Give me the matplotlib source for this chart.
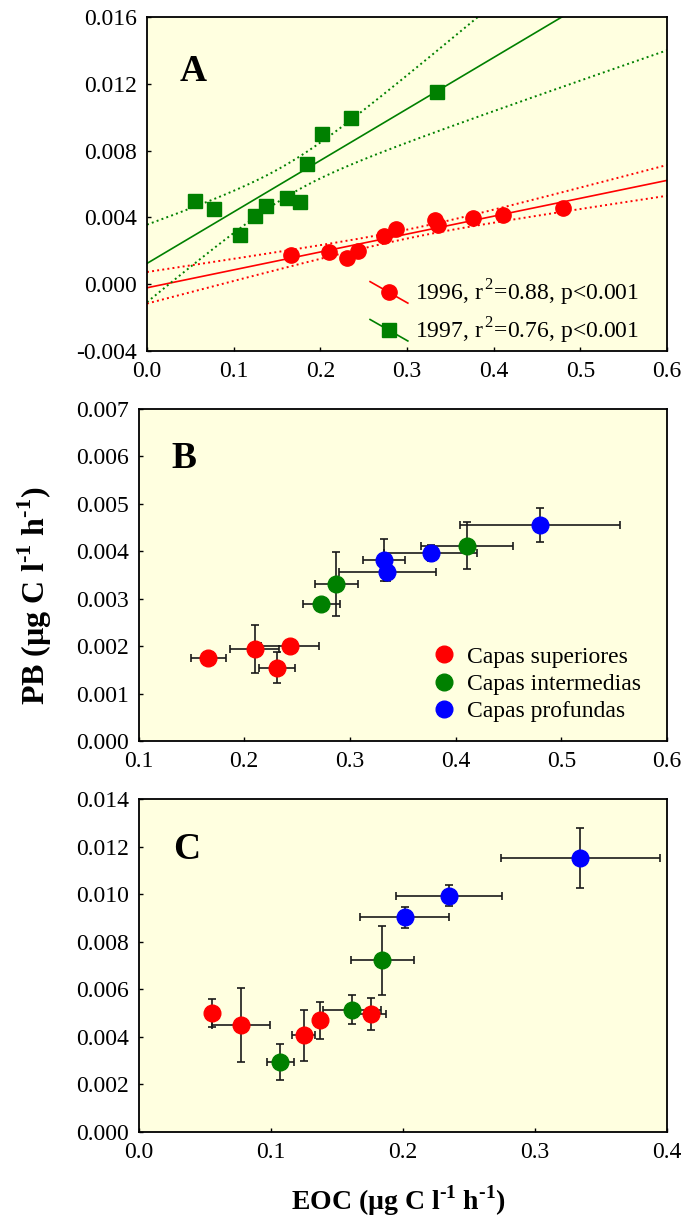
import numpy as np
import matplotlib
matplotlib.use("Agg")
import matplotlib.pyplot as plt
from matplotlib.lines import Line2D
from matplotlib.legend_handler import HandlerLine2D
from matplotlib.ticker import FormatStrFormatter, MultipleLocator

plt.rcParams['font.family'] = ['Liberation Serif', 'DejaVu Serif']
plt.rcParams['mathtext.fontset'] = 'custom'
plt.rcParams['mathtext.rm'] = 'Liberation Serif'
plt.rcParams['mathtext.bf'] = 'Liberation Serif:bold'
plt.rcParams['font.size'] = 17

# panel B (1996): means and errors per layer
b_sup_x = [0.166, 0.210, 0.231, 0.243]
b_sup_y = [0.00176, 0.00194, 0.00155, 0.00200]
b_sup_xerr = [0.0164, 0.0233, 0.0169, 0.0273]
b_sup_yerr = [0.00003, 0.0005, 0.00033, 0.00004]
b_int_x = [0.273, 0.287, 0.411]
b_int_y = [0.00290, 0.00331, 0.00412]
b_int_xerr = [0.0177, 0.0204, 0.0434]
b_int_yerr = [0.00005, 0.00068, 0.0005]
b_prof_x = [0.3325, 0.3354, 0.3765, 0.480]
b_prof_y = [0.00382, 0.00356, 0.00397, 0.00455]
b_prof_xerr = [0.0197, 0.046, 0.0438, 0.0754]
b_prof_yerr = [0.00045, 0.00018, 0.00017, 0.00036]

# panel C (1997)
c_sup_x = [0.0555, 0.0777, 0.1251, 0.1371, 0.1762]
c_sup_y = [0.00501, 0.00449, 0.00407, 0.00470, 0.00495]
c_sup_xerr = [0.002, 0.022, 0.0086, 0.004, 0.011]
c_sup_yerr = [0.00058, 0.00155, 0.00107, 0.00077, 0.00068]
c_int_x = [0.1072, 0.1614, 0.1844]
c_int_y = [0.00295, 0.00515, 0.00722]
c_int_xerr = [0.0103, 0.022, 0.0238]
c_int_yerr = [0.00076, 0.0006, 0.00145]
c_prof_x = [0.2015, 0.2350, 0.3345]
c_prof_y = [0.00902, 0.00993, 0.01153]
c_prof_xerr = [0.0338, 0.040, 0.060]
c_prof_yerr = [0.00045, 0.00044, 0.00126]

layer_names = ['Capas superiores', 'Capas intermedias', 'Capas profundas']
layer_colors = ['#ff0000', '#008000', '#0000ff']
label_96 = '1996, r$^{\\,2}$=0.88, p<0.001'
label_97 = '1997, r$^{\\,2}$=0.76, p<0.001'

BG = '#ffffe0'
T95 = 2.262  # t(0.975, df=9)
HY = '\u2010'  # plain hyphen for the superscripts


def fit_band(x, y, xs):
    x = np.asarray(x)
    y = np.asarray(y)
    b1, b0 = np.polyfit(x, y, 1)
    n = len(x)
    resid = y - (b0 + b1 * x)
    s = np.sqrt(np.sum(resid ** 2) / (n - 2))
    sxx = np.sum((x - x.mean()) ** 2)
    yhat = b0 + b1 * xs
    se = s * np.sqrt(1.0 / n + (xs - x.mean()) ** 2 / sxx)
    return yhat, yhat - T95 * se, yhat + T95 * se


class SlantHandler(HandlerLine2D):
    def create_artists(self, legend, orig_handle, xdescent, ydescent,
                       width, height, fontsize, trans):
        arts = super().create_artists(legend, orig_handle, xdescent, ydescent,
                                      width, height, fontsize, trans)
        line = arts[0]
        mid = (height - ydescent) / 2
        xd = line.get_xdata()
        line.set_ydata(np.linspace(mid + 0.65 * height, mid - 0.65 * height, len(xd)))
        return arts


def style_axes(ax):
    ax.set_facecolor(BG)
    for sp in ax.spines.values():
        sp.set_linewidth(1.3)
    ax.tick_params(direction='in', length=3, width=1, pad=7,
                   top=False, right=False, labelsize=17)


fig = plt.figure(figsize=(6.84, 12.2), dpi=100)
axA = fig.add_axes([0.2149, 0.7123, 0.7602, 0.2738])
axB = fig.add_axes([0.2025, 0.3926, 0.7727, 0.2721])
axC = fig.add_axes([0.2025, 0.0721, 0.7727, 0.2730])

# ---- A
eoc_96 = np.concatenate([b_sup_x, b_int_x, b_prof_x])
pb_96 = np.concatenate([b_sup_y, b_int_y, b_prof_y])
eoc_97 = np.concatenate([c_sup_x, c_int_x, c_prof_x])
pb_97 = np.concatenate([c_sup_y, c_int_y, c_prof_y])

xs = np.linspace(0, 0.6, 200)
for xd, yd, col, mk, ms in [(eoc_96, pb_96, '#ff0000', 'o', 11),
                            (eoc_97, pb_97, '#008000', 's', 10)]:
    yh, lo, hi = fit_band(xd, yd, xs)
    axA.plot(xs, yh, color=col, lw=1.2, zorder=2)
    axA.plot(xs, lo, color=col, lw=1.4, ls=':', zorder=2)
    axA.plot(xs, hi, color=col, lw=1.4, ls=':', zorder=2)
    axA.plot(xd, yd, ls='none', marker=mk, ms=ms, color=col, zorder=3)

axA.set_xlim(0, 0.6)
axA.set_ylim(-0.004, 0.016)
axA.xaxis.set_major_locator(MultipleLocator(0.1))
axA.yaxis.set_major_locator(MultipleLocator(0.004))
axA.xaxis.set_major_formatter(FormatStrFormatter('%.1f'))
axA.yaxis.set_major_formatter(FormatStrFormatter('%.3f'))
style_axes(axA)
hA = [Line2D([], [], color='#ff0000', lw=1.2, marker='o', ms=11),
      Line2D([], [], color='#008000', lw=1.2, marker='s', ms=10)]
axA.legend(hA, [label_96, label_97], loc='upper left',
           bbox_to_anchor=(0.429, 0.219), frameon=False, borderpad=0,
           borderaxespad=0, handlelength=1.6, handletextpad=0.3,
           labelspacing=0.32, numpoints=1, fontsize=17,
           handler_map={Line2D: SlantHandler()})
axA.text(0.063, 0.808, 'A', transform=axA.transAxes, fontsize=27,
         fontweight='bold', ha='left', va='baseline')

# ---- B and C
def layer_panel(ax, groups):
    for (x, y, xe, ye), col in zip(groups, layer_colors):
        ax.errorbar(x, y, xerr=xe, yerr=ye, fmt='none', ecolor='#1a1a1a',
                    elinewidth=1.2, capsize=3, capthick=1.2, zorder=2)
    for (x, y, xe, ye), col, name in zip(groups, layer_colors, layer_names):
        ax.plot(x, y, ls='none', marker='o', ms=12, color=col, label=name, zorder=3)


layer_panel(axB, [(b_sup_x, b_sup_y, b_sup_xerr, b_sup_yerr),
                  (b_int_x, b_int_y, b_int_xerr, b_int_yerr),
                  (b_prof_x, b_prof_y, b_prof_xerr, b_prof_yerr)])
axB.set_xlim(0.1, 0.6)
axB.set_ylim(0, 0.007)
axB.xaxis.set_major_locator(MultipleLocator(0.1))
axB.yaxis.set_major_locator(MultipleLocator(0.001))
axB.xaxis.set_major_formatter(FormatStrFormatter('%.1f'))
axB.yaxis.set_major_formatter(FormatStrFormatter('%.3f'))
style_axes(axB)
axB.legend(loc='upper left', bbox_to_anchor=(0.555, 0.286), frameon=False,
           borderpad=0, borderaxespad=0, handlelength=1.0, handletextpad=0.5,
           labelspacing=0.25, numpoints=1, fontsize=17)
axB.text(0.063, 0.822, 'B', transform=axB.transAxes, fontsize=27,
         fontweight='bold', ha='left', va='baseline')

layer_panel(axC, [(c_sup_x, c_sup_y, c_sup_xerr, c_sup_yerr),
                  (c_int_x, c_int_y, c_int_xerr, c_int_yerr),
                  (c_prof_x, c_prof_y, c_prof_xerr, c_prof_yerr)])
axC.set_xlim(0, 0.4)
axC.set_ylim(0, 0.014)
axC.xaxis.set_major_locator(MultipleLocator(0.1))
axC.yaxis.set_major_locator(MultipleLocator(0.002))
axC.xaxis.set_major_formatter(FormatStrFormatter('%.1f'))
axC.yaxis.set_major_formatter(FormatStrFormatter('%.3f'))
style_axes(axC)
axC.text(0.066, 0.82, 'C', transform=axC.transAxes, fontsize=27,
         fontweight='bold', ha='left', va='baseline')

unit = 'µg C l$^{\\mathbf{' + HY + '1}}$ h$^{\\mathbf{' + HY + '1}}$'
fig.text(0.051, 0.512, 'PB (' + unit + ')',
         rotation=90, fontsize=23, fontweight='bold', ha='center', va='center')
fig.text(0.583, 0.0156, 'EOC (' + unit + ')',
         fontsize=20, fontweight='bold', ha='center', va='center')

fig.savefig('out.png', dpi=100)
